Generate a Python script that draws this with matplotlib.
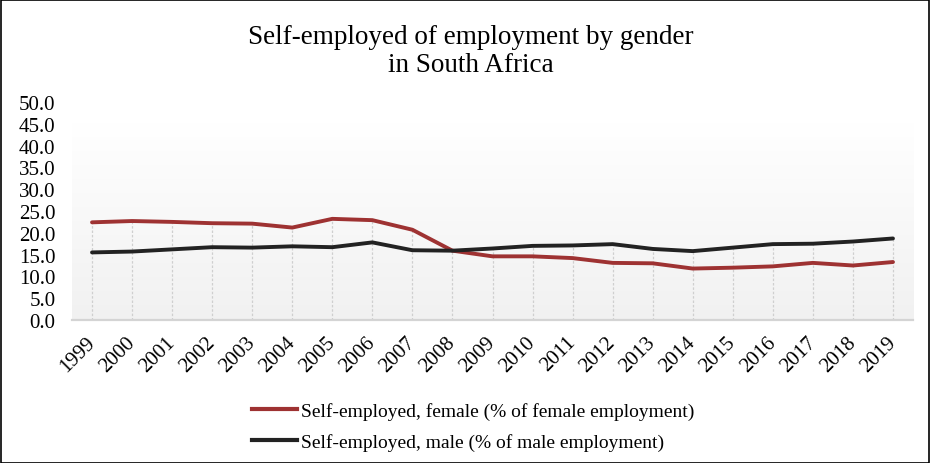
import matplotlib
matplotlib.use("Agg")
import matplotlib.pyplot as plt
import numpy as np
from matplotlib.patches import Rectangle
from matplotlib.lines import Line2D

years = [str(y) for y in range(1999, 2020)]
female = [22.4, 22.7, 22.5, 22.2, 22.1, 21.2, 23.2, 22.9, 20.7, 15.9,
          14.6, 14.6, 14.2, 13.1, 13.0, 11.8, 12.0, 12.3, 13.1, 12.5, 13.3]
male = [15.5, 15.7, 16.2, 16.7, 16.6, 16.9, 16.7, 17.8, 16.0, 15.9,
        16.4, 17.0, 17.1, 17.4, 16.3, 15.8, 16.6, 17.4, 17.5, 18.0, 18.7]
yticks = [0, 5, 10, 15, 20, 25, 30, 35, 40, 45, 50]

plt.rcParams['font.family'] = ['Liberation Serif', 'DejaVu Serif']

W, H = 930, 464
fig = plt.figure(figsize=(W / 100, H / 100), dpi=100)
ax = fig.add_axes([72 / W, 1 - 321 / H, (913 - 72) / W, (321 - 103) / H])

x = np.arange(len(years))
n = len(years)

# gradient background
grad = np.linspace(1.0, 0.945, 256).reshape(-1, 1)
ax.imshow(np.dstack([grad, grad, grad]), extent=(-0.5, n - 0.5, 0, 45),
          aspect='auto', zorder=0, origin='upper')
ax.set_xlim(-0.5, n - 0.5)
ax.set_ylim(0, 50)

tops = np.maximum(female, male)
ax.vlines(x, 0, tops, color='#cfcfcf', lw=0.9, ls=(0, (2, 1.5)), zorder=1)

c_f = '#9e3232'
c_m = '#222222'
ax.plot(x, female, color=c_f, lw=2.8, zorder=3, solid_capstyle='round')
ax.plot(x, male, color=c_m, lw=2.8, zorder=3, solid_capstyle='round')

for s in ['top', 'right', 'left']:
    ax.spines[s].set_visible(False)
ax.spines['bottom'].set_color('#d4d4d4')
ax.spines['bottom'].set_linewidth(1.6)

ax.set_yticks(yticks)
ax.set_yticklabels([f"{v:.1f}" for v in yticks], fontsize=15)
ax.tick_params(axis='y', length=0, pad=12)
ax.set_xticks(x)
ax.set_xticklabels(years, rotation=45, ha='right', va='center', rotation_mode='anchor', fontsize=15)
ax.tick_params(axis='x', length=0, pad=14)

fig.text(471 / W, 1 - 38 / H, "Self-employed of employment by gender", ha='center', va='center', fontsize=19.5)
fig.text(471 / W, 1 - 65 / H, "in South Africa", ha='center', va='center', fontsize=19.5)

# legend
handles = [Line2D([], [], color=c_f, lw=3), Line2D([], [], color=c_m, lw=3)]
labels = ["Self-employed, female (% of female employment)",
          "Self-employed, male (% of male employment)"]
fig.legend(handles, labels, loc='upper left', bbox_to_anchor=(244 / W, 1 - 395 / H),
           frameon=False, fontsize=14, handlelength=2.3, handletextpad=0.25,
           labelspacing=0.7, borderaxespad=0)

fig.patches.append(Rectangle((0.5 / W, 0.5 / H), 1 - 1.5 / W, 1 - 1.5 / H, transform=fig.transFigure,
                             fill=False, edgecolor='black', lw=1.2))

fig.savefig("out.png", dpi=100)
